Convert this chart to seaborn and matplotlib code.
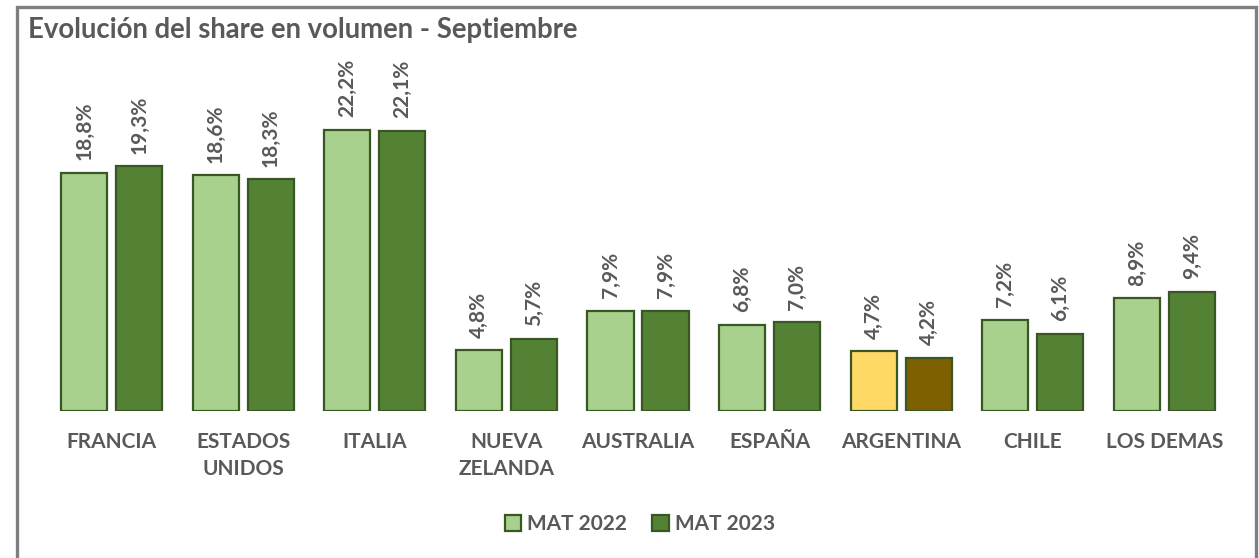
import matplotlib
matplotlib.use("Agg")
import matplotlib.pyplot as plt
from matplotlib.patches import Patch, Rectangle
import seaborn as sns
import pandas as pd

# Share in volume per origin, MAT 2022 vs MAT 2023
paises = ["FRANCIA", "ESTADOS\nUNIDOS", "ITALIA", "NUEVA\nZELANDA", "AUSTRALIA",
          "ESPAÑA", "ARGENTINA", "CHILE", "LOS DEMAS"]
mat_2022 = [18.8, 18.6, 22.2, 4.8, 7.9, 6.8, 4.7, 7.2, 8.9]
mat_2023 = [19.3, 18.3, 22.1, 5.7, 7.9, 7.0, 4.2, 6.1, 9.4]
periodos = ["MAT 2022", "MAT 2023"]

c_light, c_dark, c_edge = "#A9D18E", "#548235", "#385723"
c_arg_light, c_arg_dark = "#FFD966", "#7F6000"
c_text = "#595959"

df = pd.DataFrame({
    "pais": paises * 2,
    "periodo": [periodos[0]] * len(paises) + [periodos[1]] * len(paises),
    "share": mat_2022 + mat_2023,
})

sns.set_theme(style="white")
plt.rcParams["font.family"] = ["Lato", "DejaVu Sans"]

W, H = 1259, 558
fig = plt.figure(figsize=(W / 100, H / 100), dpi=100)
ax = fig.add_axes([46 / W, (H - 411) / H, (1230 - 46) / W, (411 - 60) / H])

sns.barplot(data=df, x="pais", y="share", hue="periodo", order=paises,
            hue_order=periodos, palette=[c_light, c_dark], saturation=1,
            width=0.836, gap=0.163, edgecolor=c_edge, linewidth=1.6,
            legend=False, ax=ax)

# Highlight Argentina with its own colours
arg = paises.index("ARGENTINA")
for cont, col in zip(ax.containers, [c_arg_light, c_arg_dark]):
    cont.patches[arg].set_facecolor(col)

for cont, vals in zip(ax.containers, [mat_2022, mat_2023]):
    for bar, v in zip(cont.patches, vals):
        ax.annotate(f"{v:.1f}%".replace(".", ","),
                    (bar.get_x() + bar.get_width() / 2, bar.get_height()),
                    xytext=(0, 9), textcoords="offset points",
                    ha="center", va="bottom", rotation=90,
                    fontsize=15, fontweight="bold", color=c_text)

ax.set_ylim(0, 27.7)
ax.set_xlim(-0.5, len(paises) - 0.5)
ax.set_yticks([])
ax.set_xlabel("")
ax.set_ylabel("")
for s in ["top", "right", "left", "bottom"]:
    ax.spines[s].set_visible(False)
ax.tick_params(axis="x", length=0, pad=15)
for t in ax.get_xticklabels():
    t.set_fontsize(15)
    t.set_fontweight("bold")
    t.set_color(c_text)
    t.set_linespacing(1.45)
    t.set_verticalalignment("top")

fig.text(28 / W, 1 - 30 / H, "Evolución del share en volumen - Septiembre",
         ha="left", va="center", fontsize=19.8, fontweight="bold", color=c_text)

handles = [Patch(facecolor=c_light, edgecolor=c_edge, linewidth=1.6),
           Patch(facecolor=c_dark, edgecolor=c_edge, linewidth=1.6)]
leg = fig.legend(handles, periodos, loc="center", bbox_to_anchor=(640 / W, 1 - 524 / H),
                 ncol=2, frameon=False, handlelength=0.8, handleheight=0.8,
                 handletextpad=0.3, columnspacing=1.2,
                 prop={"size": 15, "weight": "bold"})
for t in leg.get_texts():
    t.set_color(c_text)

# Outer frame (open at the bottom edge)
fig.patches.append(Rectangle((17 / W, -0.05), (1256 - 17) / W, 1.05 - 7 / H,
                             transform=fig.transFigure, fill=False,
                             edgecolor="#7F7F7F", linewidth=2.4))

fig.savefig("out.png", dpi=100, facecolor="white")
